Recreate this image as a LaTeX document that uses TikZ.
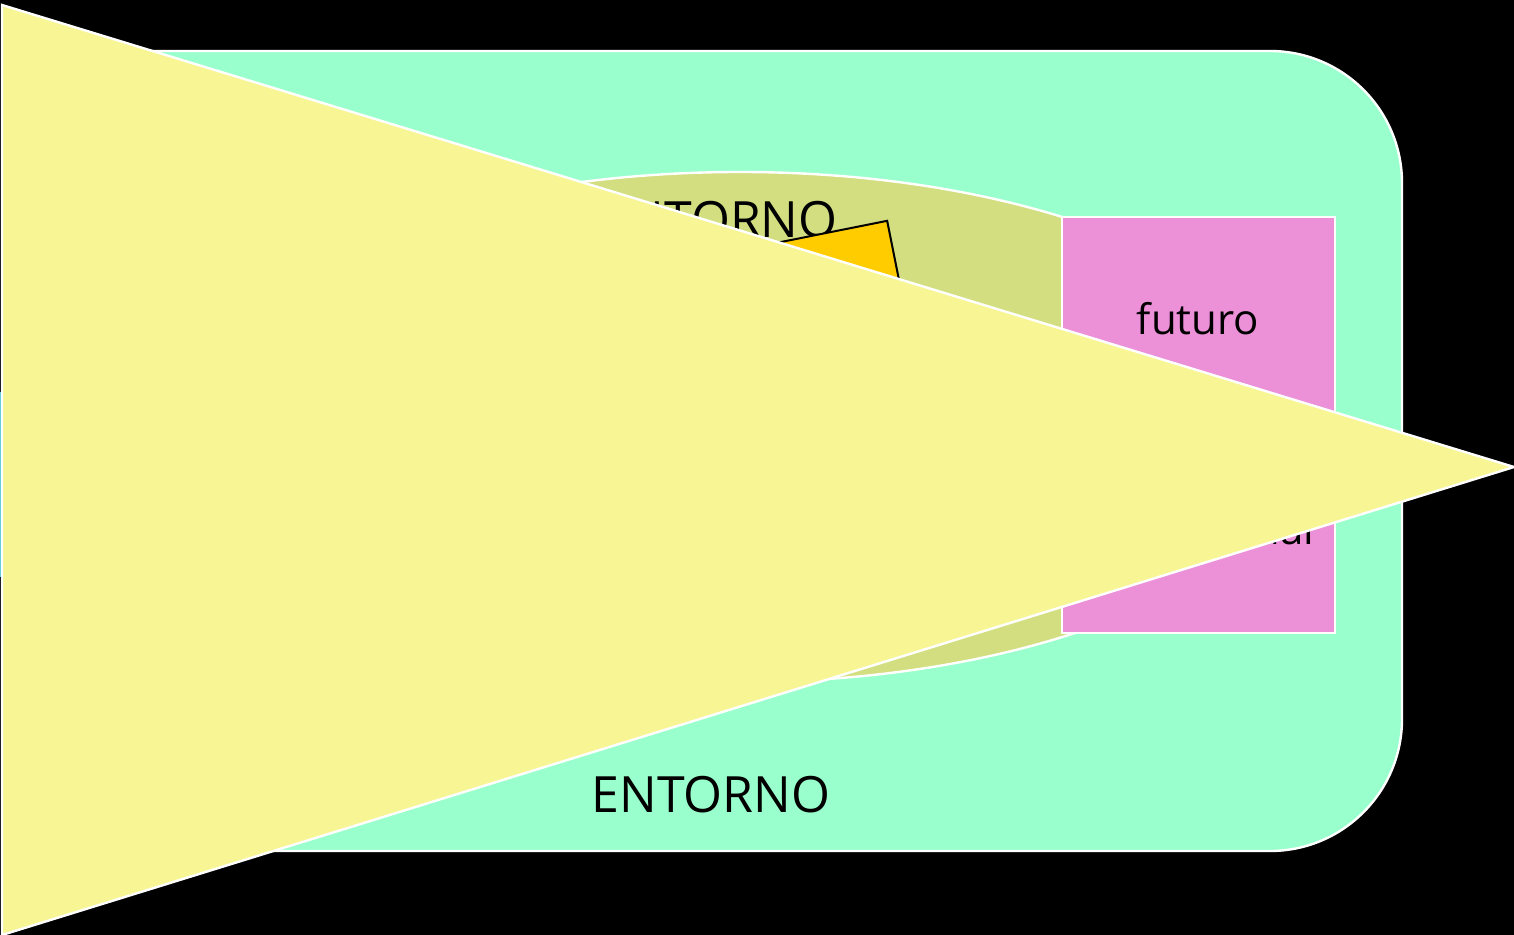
\documentclass[tikz,border=0pt]{standalone}
\usepackage{fontspec}
\setmainfont{Open Sans}
\usepackage{tikz}
\usetikzlibrary{positioning}
\definecolor{mint}{HTML}{99FFCC}
\definecolor{olive}{HTML}{D2DE80}
\definecolor{rosa}{HTML}{EC90D8}
\definecolor{amarillo}{HTML}{F8F594}
\definecolor{oro}{HTML}{FFCC00}
\definecolor{celeste}{HTML}{4FC3D8}
\tikzset{
x=0.5pt, y=-0.5pt, % one unit is one pixel of the slide, y goes down
zona/.style={draw=white, line width=1.2pt}, % white edged areas
etiqueta/.style={inner sep=0pt, font=\fontsize{25}{30}\selectfont}, % big labels
etiquetapeq/.style={inner sep=0pt, font=\fontsize{21}{25}\selectfont}, % labels in the pink box
tarjeta/.style={draw=black, line width=1pt, fill=oro, inner sep=0pt, minimum width=110pt, minimum height=70pt}, % tilted card
}
\begin{document}
\begin{tikzpicture}
        \fill[black] (0,0) rectangle (1514,935);
        \useasboundingbox (0,0) rectangle (1514,935);
        \fill[celeste] (0,392) rectangle (1.6,577);

        % outer environment
        \draw[zona, fill=mint, rounded corners=66pt] (20,51) rectangle (1402,851);
        \node[etiqueta, anchor=base] (entorno) at (711,812) {ENTORNO};

        % inner environment
        \draw[zona, fill=olive] (740,427) ellipse [x radius=284pt, y radius=127.5pt];
        \node[etiqueta, anchor=base east] (entornoint) at (838,238) {ENTORNO};
        \node[tarjeta, rotate=11.3] (tarjeta) at (793,311) {};

        % pink box
        \draw[zona, fill=rosa] (1062,217) rectangle (1335,633);
        \node[etiquetapeq, anchor=base] (futuro) at (1198,335) {futuro};
        \node[etiquetapeq, anchor=base east] (actual) at (1315,544) {actual};

        % big arrow in front
        \draw[zona, fill=amarillo, line join=miter] (2,5) -- (1514,467) -- (2,935) -- cycle;
      \end{tikzpicture}
\end{document}
